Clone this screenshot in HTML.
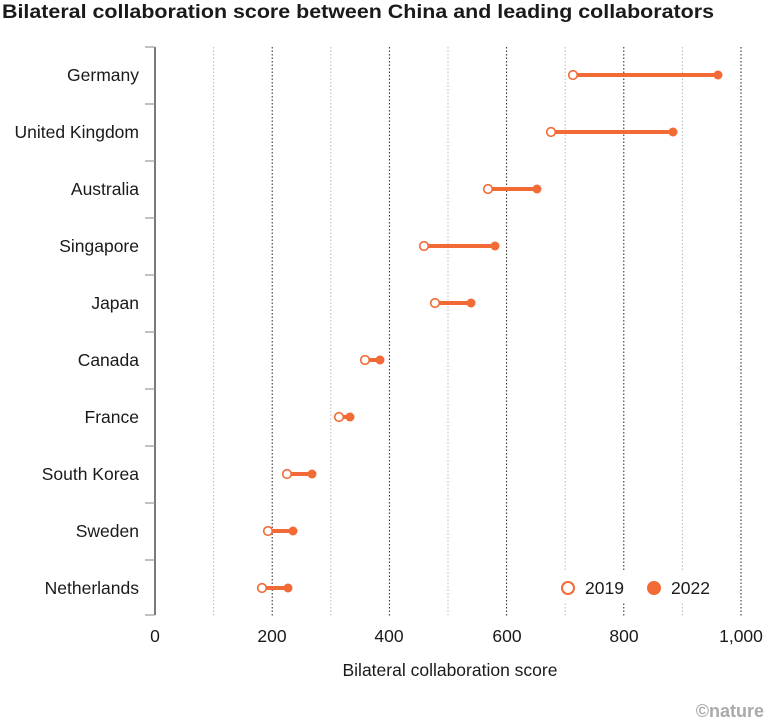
<!DOCTYPE html><html><head><style>body{margin:0;background:#fff}svg{display:block}text{font-family:"Liberation Sans",sans-serif}</style></head><body>
<svg width="767" height="727" viewBox="0 0 767 727" xmlns="http://www.w3.org/2000/svg">
<text x="2" y="18" font-size="19" font-weight="bold" fill="#1a1a1a" textLength="712" lengthAdjust="spacingAndGlyphs">Bilateral collaboration score between China and leading collaborators</text>
<g stroke-dasharray="1.5,2" stroke-width="1">
<g stroke="#bbb"><line x1="213.6" y1="47" x2="213.6" y2="616"/><line x1="330.8" y1="47" x2="330.8" y2="616"/><line x1="448" y1="47" x2="448" y2="616"/><line x1="565.2" y1="47" x2="565.2" y2="616"/><line x1="682.4" y1="47" x2="682.4" y2="616"/></g>
<g stroke="#222"><line x1="272.2" y1="47" x2="272.2" y2="616"/><line x1="389.4" y1="47" x2="389.4" y2="616"/><line x1="506.6" y1="47" x2="506.6" y2="616"/><line x1="623.8" y1="47" x2="623.8" y2="616"/><line x1="741" y1="47" x2="741" y2="616"/></g>
</g>
<line x1="155" y1="47" x2="155" y2="615" stroke="#222" stroke-width="1.2"/>
<g stroke="#999" stroke-width="1.2">
<line x1="145" y1="47" x2="155" y2="47"/><line x1="145" y1="104" x2="155" y2="104"/><line x1="145" y1="161" x2="155" y2="161"/><line x1="145" y1="218" x2="155" y2="218"/><line x1="145" y1="275" x2="155" y2="275"/><line x1="145" y1="332" x2="155" y2="332"/><line x1="145" y1="389" x2="155" y2="389"/><line x1="145" y1="446" x2="155" y2="446"/><line x1="145" y1="503" x2="155" y2="503"/><line x1="145" y1="560" x2="155" y2="560"/><line x1="145" y1="615" x2="155" y2="615"/>
</g>
<g font-size="17.5" fill="#1a1a1a" text-anchor="end">
<text x="139" y="81">Germany</text><text x="139" y="138">United Kingdom</text><text x="139" y="195">Australia</text><text x="139" y="252">Singapore</text><text x="139" y="309">Japan</text><text x="139" y="366">Canada</text><text x="139" y="423">France</text><text x="139" y="480">South Korea</text><text x="139" y="537">Sweden</text><text x="139" y="594">Netherlands</text>
</g>
<g stroke="#f26a35" stroke-width="4">
<line x1="573" y1="75" x2="718" y2="75"/><line x1="551" y1="132" x2="673" y2="132"/><line x1="488" y1="189" x2="537" y2="189"/><line x1="424" y1="246" x2="495" y2="246"/><line x1="435" y1="303" x2="471" y2="303"/><line x1="365" y1="360" x2="380" y2="360"/><line x1="339" y1="417" x2="350" y2="417"/><line x1="287" y1="474" x2="312" y2="474"/><line x1="268" y1="531" x2="293" y2="531"/><line x1="262" y1="588" x2="288" y2="588"/>
</g>
<g fill="#f26a35">
<circle cx="718" cy="75" r="4.5"/><circle cx="673" cy="132" r="4.5"/><circle cx="537" cy="189" r="4.5"/><circle cx="495" cy="246" r="4.5"/><circle cx="471" cy="303" r="4.5"/><circle cx="380" cy="360" r="4.5"/><circle cx="350" cy="417" r="4.5"/><circle cx="312" cy="474" r="4.5"/><circle cx="293" cy="531" r="4.5"/><circle cx="288" cy="588" r="4.5"/>
</g>
<g fill="#fff" stroke="#f26a35" stroke-width="1.6">
<circle cx="573" cy="75" r="4.3"/><circle cx="551" cy="132" r="4.3"/><circle cx="488" cy="189" r="4.3"/><circle cx="424" cy="246" r="4.3"/><circle cx="435" cy="303" r="4.3"/><circle cx="365" cy="360" r="4.3"/><circle cx="339" cy="417" r="4.3"/><circle cx="287" cy="474" r="4.3"/><circle cx="268" cy="531" r="4.3"/><circle cx="262" cy="588" r="4.3"/>
</g>
<rect x="555" y="572" width="165" height="30" fill="#fff"/>
<circle cx="568" cy="588" r="6" fill="#fff" stroke="#f26a35" stroke-width="2"/>
<text x="585" y="594" font-size="17.5" fill="#1a1a1a">2019</text>
<circle cx="654" cy="588" r="7" fill="#f26a35"/>
<text x="671" y="594" font-size="17.5" fill="#1a1a1a">2022</text>
<g font-size="17.5" fill="#1a1a1a" text-anchor="middle">
<text x="155" y="642">0</text><text x="272" y="642">200</text><text x="389" y="642">400</text><text x="507" y="642">600</text><text x="624" y="642">800</text><text x="741" y="642">1,000</text>
<text x="450" y="676">Bilateral collaboration score</text>
</g>
<text x="764" y="717" font-size="18" font-weight="bold" fill="#aaa" text-anchor="end" font-family="Liberation Serif,serif">©nature</text>
</svg>
</body></html>
